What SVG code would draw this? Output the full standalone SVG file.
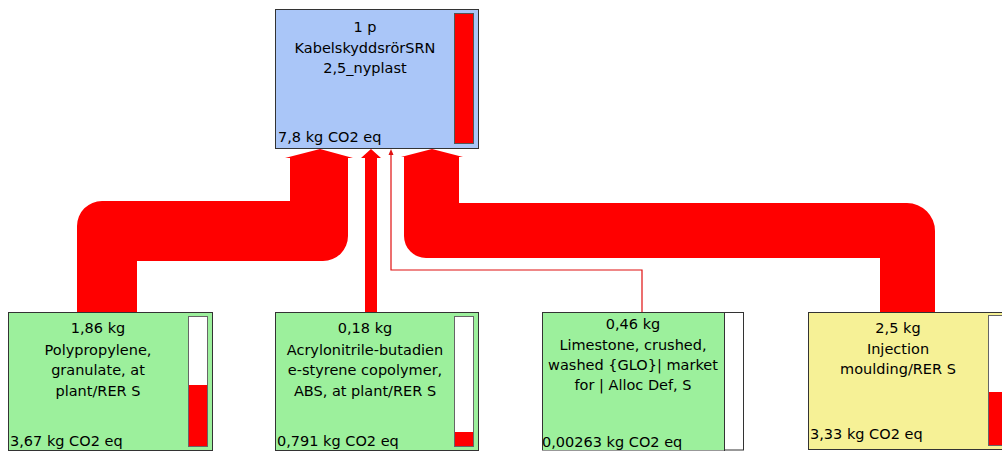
<svg xmlns="http://www.w3.org/2000/svg" width="1002" height="451" viewBox="0 0 1002 451">
<style>
text{font-family:"DejaVu Sans","Liberation Sans",sans-serif;font-size:14.5px;fill:#000}
.c{text-anchor:middle}
.box{stroke:#333;stroke-width:1}
.blue{fill:#aac6f8}
.green{fill:#9cf09c}
.yellow{fill:#f6f196}
.bar{fill:#fff;stroke:#666;stroke-width:1}
.red{fill:#f00}
.flow{fill:#f00}
</style>
<rect width="1002" height="451" fill="#fff"/>
<g id="connectors">
<path class="flow" d="M77,312 V226 A25,25 0 0 1 102,201 H290 V158 H285 L320,149 L353,158 H348 V236 A25,25 0 0 1 323,261 H137 V312 Z"/>
<path class="flow" d="M365,312 V158 H361 L371,149 L381,158 H377 V312 Z"/>
<path class="flow" d="M880,312 V258 H426 A22,22 0 0 1 404,236 V157 H401 L432,149 L463,157 H459 V203 H907 A28,28 0 0 1 935,231 V312 Z"/>
<path d="M642,312 V270 H391 V154" fill="none" stroke="#e01010" stroke-width="1.2"/>
<polygon points="388.5,155 391,149 393.5,155" fill="#e01010"/>
</g>
<g id="node-top">
<rect class="box blue" x="275.5" y="9.5" width="203" height="139"/>
<rect class="red" x="454.5" y="13.5" width="19" height="130" stroke="#555"/>
<text class="c" x="365" y="32">1 p</text>
<text class="c" x="365" y="52.5">KabelskyddsrörSRN</text>
<text class="c" x="365" y="73">2,5_nyplast</text>
<text x="278" y="142">7,8 kg CO2 eq</text>
</g>
<g id="node-pp">
<rect class="box green" x="8.5" y="312.5" width="204" height="138"/>
<rect class="bar" x="188.5" y="316.5" width="19" height="130"/>
<rect class="red" x="189" y="385" width="18" height="61"/>
<text class="c" x="98" y="333">1,86 kg</text>
<text class="c" x="98" y="354.5">Polypropylene,</text>
<text class="c" x="98" y="375">granulate, at</text>
<text class="c" x="98" y="396">plant/RER S</text>
<text x="10" y="446">3,67 kg CO2 eq</text>
</g>
<g id="node-abs">
<rect class="box green" x="275.5" y="312.5" width="203" height="138"/>
<rect class="bar" x="454.5" y="316.5" width="19" height="130"/>
<rect class="red" x="455" y="432" width="18" height="14"/>
<text class="c" x="365" y="333">0,18 kg</text>
<text class="c" x="365" y="354.5">Acrylonitrile-butadien</text>
<text class="c" x="365" y="375">e-styrene copolymer,</text>
<text class="c" x="365" y="396">ABS, at plant/RER S</text>
<text x="277" y="446">0,791 kg CO2 eq</text>
</g>
<g id="node-limestone">
<rect class="box" fill="#fff" x="542.5" y="312.5" width="201" height="137.5"/>
<rect class="green" x="543" y="313" width="181" height="137"/>
<line x1="724.5" y1="312" x2="724.5" y2="451" stroke="#333"/>
<text class="c" x="633" y="329">0,46 kg</text>
<text class="c" x="633" y="350">Limestone, crushed,</text>
<text class="c" x="633" y="370">washed {GLO}| market</text>
<text class="c" x="633" y="390">for | Alloc Def, S</text>
<text x="542" y="447">0,00263 kg CO2 eq</text>
</g>
<g id="node-injection">
<rect class="box yellow" x="808.5" y="312.5" width="210" height="137"/>
<rect class="bar" x="988.5" y="315.5" width="19" height="130"/>
<rect class="red" x="989" y="392" width="18" height="53"/>
<text class="c" x="898" y="333">2,5 kg</text>
<text class="c" x="898" y="354">Injection</text>
<text class="c" x="898" y="374">moulding/RER S</text>
<text x="810" y="439">3,33 kg CO2 eq</text>
</g>
</svg>
